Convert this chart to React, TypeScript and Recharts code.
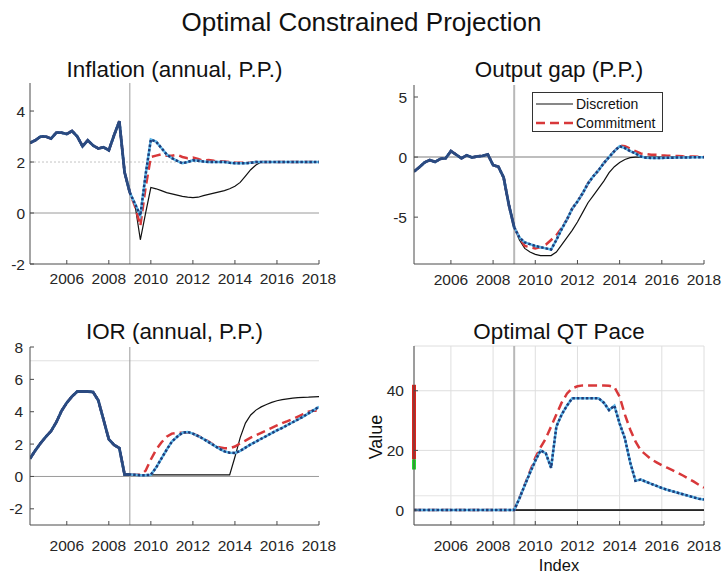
import React from "react"
import { LineChart, Line, XAxis, YAxis, ReferenceLine, CartesianGrid } from "recharts"

const FONT = '"Liberation Sans", Arial, Helvetica, sans-serif'

// quarterly dates, 2004Q2 .. 2018Q1
const quarters = [
  2004.25, 2004.5, 2004.75, 2005, 2005.25, 2005.5, 2005.75, 2006, 2006.25, 2006.5,
  2006.75, 2007, 2007.25, 2007.5, 2007.75, 2008, 2008.25, 2008.5, 2008.75, 2009,
  2009.25, 2009.5, 2009.75, 2010, 2010.25, 2010.5, 2010.75, 2011, 2011.25, 2011.5,
  2011.75, 2012, 2012.25, 2012.5, 2012.75, 2013, 2013.25, 2013.5, 2013.75, 2014,
  2014.25, 2014.5, 2014.75, 2015, 2015.25, 2015.5, 2015.75, 2016, 2016.25, 2016.5,
  2016.75, 2017, 2017.25, 2017.5, 2017.75, 2018,
]
const yearTicks = [2006, 2008, 2010, 2012, 2014, 2016, 2018]
const projectionStart = 2009

// inflation: history up to 2009Q1, then projections
const inflHist = [2.75, 2.85, 3.0, 3.0, 2.92, 3.15, 3.15, 3.1, 3.22, 3.0, 2.62, 2.85, 2.65, 2.53, 2.58, 2.46, 3.05, 3.6, 1.6, 0.8]
const inflDisc = [0.3, -1.05, 0.0, 1.0, 0.95, 0.88, 0.8, 0.75, 0.7, 0.65, 0.62, 0.6, 0.62, 0.68, 0.73, 0.78, 0.83, 0.88, 0.95, 1.05, 1.2, 1.45, 1.7, 1.88, 2.0, 2.0, 2.0, 2.0, 2.0, 2.0, 2.0, 2.0, 2.0, 2.0, 2.0, 2.0]
const inflComm = [0.25, -0.5, 1.0, 2.2, 2.25, 2.3, 2.25, 2.25, 2.28, 2.2, 2.15, 2.18, 2.12, 2.05, 2.08, 2.05, 2.03, 2.02, 2.0, 1.98, 1.97, 1.97, 1.98, 2.0, 2.0, 2.0, 2.0, 2.0, 2.0, 2.0, 2.0, 2.0, 2.0, 2.0, 2.0, 2.0]
const inflOpt = [0.35, -0.1, 1.5, 2.88, 2.8, 2.55, 2.3, 2.15, 2.05, 1.95, 2.0, 2.07, 2.05, 2.02, 2.0, 2.0, 2.0, 2.0, 1.97, 1.95, 1.95, 1.95, 1.97, 2.0, 2.0, 2.0, 2.0, 2.0, 2.0, 2.0, 2.0, 2.0, 2.0, 2.0, 2.0, 2.0]
const inflTarget = 2

// output gap
const gapHist = [-1.2, -0.85, -0.45, -0.25, -0.4, -0.15, -0.1, 0.5, 0.2, -0.1, 0.15, -0.03, 0.05, 0.1, 0.22, -0.67, -0.8, -1.7, -4.0, -5.85]
const gapDisc = [-6.9, -7.6, -7.9, -8.1, -8.2, -8.2, -8.2, -7.9, -7.3, -6.7, -6.1, -5.4, -4.6, -3.8, -3.2, -2.6, -2.0, -1.3, -0.8, -0.45, -0.2, -0.05, 0, 0, 0, 0, 0, 0, 0, 0, 0, 0, 0, 0, 0, 0]
const gapComm = [-6.7, -7.4, -7.5, -7.6, -7.5, -7.3, -6.9, -6.5, -5.9, -5.2, -4.3, -3.7, -3.0, -2.2, -1.6, -1.1, -0.5, 0.0, 0.5, 0.95, 0.9, 0.7, 0.5, 0.3, 0.25, 0.2, 0.2, 0.15, 0.12, 0.1, 0.08, 0.06, 0.05, 0.04, 0.03, 0.02]
const gapOpt = [-6.7, -7.1, -7.25, -7.4, -7.5, -7.6, -7.7, -6.9, -6.0, -5.2, -4.3, -3.7, -3.0, -2.2, -1.6, -1.1, -0.5, 0.0, 0.5, 0.9, 0.75, 0.5, 0.3, 0.05, -0.05, -0.08, -0.08, -0.07, -0.06, -0.05, -0.04, -0.03, -0.03, -0.02, -0.02, -0.02]

// interest on reserves
const iorHist = [1.1, 1.6, 2.05, 2.45, 2.8, 3.35, 4.05, 4.55, 4.95, 5.25, 5.25, 5.25, 5.22, 4.7, 3.5, 2.3, 1.95, 1.75, 0.12, 0.12]
const iorDisc = [0.1, 0.1, 0.1, 0.1, 0.1, 0.1, 0.1, 0.1, 0.1, 0.1, 0.1, 0.1, 0.1, 0.1, 0.1, 0.1, 0.1, 0.1, 0.1, 1.2, 2.4, 3.3, 3.8, 4.1, 4.3, 4.45, 4.58, 4.68, 4.75, 4.8, 4.84, 4.87, 4.89, 4.9, 4.92, 4.93]
const iorComm = [0.1, 0.1, 0.35, 1.05, 1.65, 2.1, 2.45, 2.65, 2.7, 2.7, 2.72, 2.65, 2.5, 2.35, 2.15, 1.95, 1.8, 1.75, 1.75, 1.85, 2.05, 2.22, 2.4, 2.55, 2.7, 2.85, 3.0, 3.15, 3.3, 3.42, 3.55, 3.7, 3.85, 4.0, 4.08, 4.05]
const iorOpt = [0.1, 0.08, 0.08, 0.1, 0.55, 1.1, 1.65, 2.15, 2.45, 2.7, 2.75, 2.65, 2.5, 2.32, 2.12, 1.92, 1.72, 1.55, 1.47, 1.45, 1.58, 1.78, 1.98, 2.15, 2.33, 2.5, 2.68, 2.85, 3.0, 3.18, 3.35, 3.52, 3.7, 3.9, 4.1, 4.3]
const iorNeutral = 7.15

// QT pace
const qtHist = [0, 0, 0, 0, 0, 0, 0, 0, 0, 0, 0, 0, 0, 0, 0, 0, 0, 0, 0, 0]
const qtDisc = [0, 0, 0, 0, 0, 0, 0, 0, 0, 0, 0, 0, 0, 0, 0, 0, 0, 0, 0, 0, 0, 0, 0, 0, 0, 0, 0, 0, 0, 0, 0, 0, 0, 0, 0, 0]
const qtComm = [4, 8.5, 13, 17.5, 21, 24, 28, 32, 36, 39, 40.8, 41.5, 41.8, 41.8, 41.8, 41.8, 41.8, 41.7, 41.2, 38, 32, 27, 23, 20, 18.5, 17, 16, 15, 14.2, 13.4, 12.5, 11.6, 10.6, 9.6, 8.5, 7.5]
const qtOpt = [4, 8.3, 12.5, 16.5, 20, 19, 14.2, 28, 32, 35, 37.5, 37.5, 37.5, 37.5, 37.5, 37.5, 36, 33.5, 35, 29, 24, 16, 9.8, 10.2, 9.5, 8.8, 8.1, 7.4, 6.8, 6.3, 5.8, 5.3, 4.8, 4.3, 3.8, 3.5]
const qtBandRed = [17, 42]
const qtBandGreen = [13.6, 17]
const qtFaint = 4.8

function buildRows(hist: number[], disc: number[], comm: number[], opt: number[], overlay: boolean) {
  const n = hist.length
  return quarters.map((t, i) => ({
    t,
    disc: i < n ? hist[i] : disc[i - n],
    comm: i < n ? hist[i] : comm[i - n],
    opt: i < n ? hist[i] : opt[i - n],
    hist: overlay && i < n ? hist[i] : null,
  }))
}

const axisColor = "#4a4a4a"
const tickStyle = { fontSize: 15.5, fill: "#262626", fontFamily: FONT }

type Box = { left: number; top: number; width: number; height: number }

function Panel(props: {
  title: string
  titleY: number
  box: Box
  rows: any[]
  yDomain: number[]
  yTicks: number[]
  marginX: number
  marginY: number
  thickV?: boolean
  grid?: boolean
  extra?: React.ReactNode
}) {
  const { box } = props
  const yw = 50
  const xh = 40
  const rm = 24
  const tm = 12
  return (
    <>
      <div
        style={{
          position: "absolute",
          left: box.left - 40,
          width: box.width + 80,
          top: props.titleY - 11.2,
          fontSize: 22.4,
          lineHeight: "22.4px",
          textAlign: "center",
          whiteSpace: "nowrap",
        }}
      >
        {props.title}
      </div>
      <div style={{ position: "absolute", left: box.left - yw, top: box.top - tm }}>
        <LineChart
          width={box.width + yw + rm}
          height={box.height + tm + xh}
          data={props.rows}
          margin={{ top: tm, right: rm, bottom: 0, left: 0 }}
        >
          {props.grid && <CartesianGrid stroke="#dedede" strokeWidth={1} />}
          <XAxis
            dataKey="t"
            type="number"
            domain={[2004.25, 2018]}
            ticks={yearTicks}
            interval={0}
            height={xh}
            tickSize={-4}
            tickMargin={props.marginX}
            tick={tickStyle}
            axisLine={{ stroke: axisColor }}
            tickLine={{ stroke: axisColor }}
            allowDataOverflow
          />
          <XAxis
            xAxisId="top"
            orientation="top"
            dataKey="t"
            type="number"
            domain={[2004.25, 2018]}
            ticks={yearTicks}
            interval={0}
            height={0}
            tickSize={-4}
            tick={false}
            axisLine={{ stroke: axisColor }}
            tickLine={{ stroke: axisColor }}
            allowDataOverflow
          />
          <YAxis
            type="number"
            domain={props.yDomain}
            ticks={props.yTicks}
            interval={0}
            width={yw}
            tickSize={-4}
            tickMargin={props.marginY}
            tick={tickStyle}
            axisLine={{ stroke: axisColor }}
            tickLine={{ stroke: axisColor }}
            allowDataOverflow
          />
          <YAxis
            yAxisId="right"
            orientation="right"
            type="number"
            domain={props.yDomain}
            ticks={props.yTicks}
            interval={0}
            width={0}
            tickSize={-4}
            tick={false}
            axisLine={{ stroke: axisColor }}
            tickLine={{ stroke: axisColor }}
            allowDataOverflow
          />
          {props.extra}
          <ReferenceLine
            x={projectionStart}
            stroke={props.thickV ? "#b8b8b8" : "#9a9a9a"}
            strokeWidth={props.thickV ? 2 : 1}
          />
          <Line type="linear" dataKey="disc" stroke="#111" strokeWidth={1.2} dot={false} isAnimationActive={false} />
          <Line type="linear" dataKey="comm" stroke="#d8383a" strokeWidth={2.5} strokeDasharray="9 5" dot={false} isAnimationActive={false} />
          <Line type="linear" dataKey="opt" stroke="#5cb6e8" strokeWidth={2.5} dot={false} isAnimationActive={false} />
          <Line type="linear" dataKey="opt" stroke="#1e3d7a" strokeWidth={2.5} strokeDasharray="2.5 2" dot={false} isAnimationActive={false} />
          <Line type="linear" dataKey="hist" stroke="#2b4a80" strokeWidth={2.8} dot={false} isAnimationActive={false} connectNulls={false} />
        </LineChart>
      </div>
    </>
  )
}

function LegendBox() {
  const row = (label: string, color: string, dash?: string) => (
    <div style={{ display: "flex", alignItems: "center", height: 19 }}>
      <svg width={40} height={10} style={{ marginLeft: 2 }}>
        <line x1={1} y1={5} x2={38} y2={5} stroke={color} strokeWidth={dash ? 2.5 : 1.2} strokeDasharray={dash} />
      </svg>
      <span style={{ fontSize: 14, marginLeft: 1 }}>{label}</span>
    </div>
  )
  return (
    <div
      style={{
        position: "absolute",
        left: 532,
        top: 92,
        width: 131,
        height: 40,
        boxSizing: "border-box",
        border: "1px solid #333",
        background: "#fff",
        paddingTop: 1,
      }}
    >
      {row("Discretion", "#111")}
      {row("Commitment", "#d8383a", "9 5")}
    </div>
  )
}

export default function App() {
  const inflRows = buildRows(inflHist, inflDisc, inflComm, inflOpt, true)
  const gapRows = buildRows(gapHist, gapDisc, gapComm, gapOpt, true)
  const iorRows = buildRows(iorHist, iorDisc, iorComm, iorOpt, true)
  const qtRows = buildRows(qtHist, qtDisc, qtComm, qtOpt, false)

  return (
    <div
      style={{
        position: "absolute",
        left: 0,
        top: 0,
        width: 723,
        height: 575,
        background: "#fff",
        fontFamily: FONT,
        color: "#111",
        overflow: "hidden",
      }}
    >
      <div style={{ position: "absolute", left: 0, width: 723, top: 9, fontSize: 26, lineHeight: "26px", textAlign: "center" }}>
        Optimal Constrained Projection
      </div>

      <Panel
        title="Inflation (annual, P.P.)"
        titleY={70}
        box={{ left: 30, top: 83, width: 289, height: 181 }}
        rows={inflRows}
        yDomain={[-2, 5.1]}
        yTicks={[-2, 0, 2, 4]}
        marginX={13}
        marginY={9}
        extra={[
          <ReferenceLine key="z" y={0} stroke="#9a9a9a" strokeWidth={1} />,
          <ReferenceLine key="t" y={inflTarget} stroke="#c4c4c4" strokeWidth={1} strokeDasharray="2 2" />,
        ]}
      />

      <Panel
        title="Output gap (P.P.)"
        titleY={70}
        box={{ left: 414, top: 85, width: 290, height: 179 }}
        rows={gapRows}
        yDomain={[-8.9, 6]}
        yTicks={[-5, 0, 5]}
        marginX={13.5}
        marginY={11}
        thickV
        extra={[<ReferenceLine key="z" y={0} stroke="#a8a8a8" strokeWidth={1.5} />]}
      />
      <LegendBox />

      <Panel
        title="IOR (annual, P.P.)"
        titleY={332}
        box={{ left: 30, top: 347, width: 289, height: 178 }}
        rows={iorRows}
        yDomain={[-3, 8]}
        yTicks={[-2, 0, 2, 4, 6, 8]}
        marginX={19}
        marginY={11}
        extra={[
          <ReferenceLine key="z" y={0} stroke="#9a9a9a" strokeWidth={1} />,
          <ReferenceLine key="n" y={iorNeutral} stroke="#e0e0e0" strokeWidth={1} />,
        ]}
      />

      <Panel
        title="Optimal QT Pace"
        titleY={332}
        box={{ left: 414, top: 346, width: 290, height: 179 }}
        rows={qtRows}
        yDomain={[-5, 55]}
        yTicks={[0, 20, 40]}
        marginX={19}
        marginY={14}
        thickV
        grid
        extra={[
          <ReferenceLine key="f" y={qtFaint} stroke="#e4e4e4" strokeWidth={1} />,
          <ReferenceLine key="z" y={0} stroke="#6e6e6e" strokeWidth={2} />,
          <ReferenceLine
            key="r"
            segment={[{ x: 2004.25, y: qtBandRed[0] }, { x: 2004.25, y: qtBandRed[1] }]}
            stroke="#e0231c"
            strokeWidth={4}
          />,
          <ReferenceLine
            key="g"
            segment={[{ x: 2004.25, y: qtBandGreen[0] }, { x: 2004.25, y: qtBandGreen[1] }]}
            stroke="#22e02a"
            strokeWidth={4}
          />,
        ]}
      />
      <div
        style={{
          position: "absolute",
          left: 376 - 30,
          top: 437 - 9,
          width: 60,
          height: 18,
          fontSize: 18,
          lineHeight: "18px",
          textAlign: "center",
          transform: "rotate(-90deg)",
        }}
      >
        Value
      </div>
      <div style={{ position: "absolute", left: 414, width: 290, top: 557, fontSize: 16.5, lineHeight: "16.5px", textAlign: "center" }}>
        Index
      </div>
    </div>
  )
}
